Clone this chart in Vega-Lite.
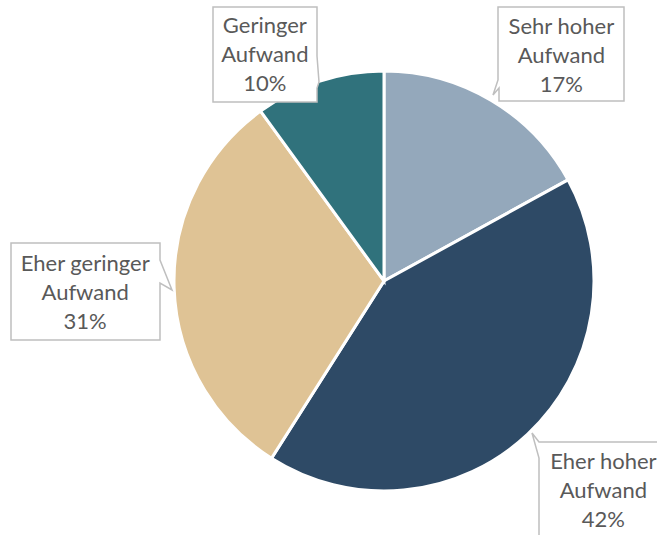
{
  "$schema": "https://vega.github.io/schema/vega-lite/v6.json",
  "width": 546,
  "height": 508,
  "autosize": {"type": "none"},
  "padding": {"left": 111, "top": 27, "right": 0, "bottom": 0},
  "background": "white",
  "view": {"stroke": null},
  "config": {"text": {"font": "Lato"}},
  "data": {
    "values": [
      {"category": "Sehr hoher Aufwand", "value": 17, "rank": 1},
      {"category": "Eher hoher Aufwand", "value": 42, "rank": 2},
      {"category": "Eher geringer Aufwand", "value": 31, "rank": 3},
      {"category": "Geringer Aufwand", "value": 10, "rank": 4}
    ]
  },
  "transform": [
    {"calculate": "[replace(datum.category, ' Aufwand', ''), 'Aufwand', datum.value + '%']", "as": "lbl"}
  ],
  "layer": [
    {
      "mark": {"type": "arc", "radius": 210, "stroke": "white", "strokeWidth": 3},
      "encoding": {
        "theta": {"field": "value", "type": "quantitative", "stack": true},
        "order": {"field": "rank", "type": "quantitative"},
        "color": {
          "field": "category",
          "type": "nominal",
          "scale": {
            "domain": ["Sehr hoher Aufwand", "Eher hoher Aufwand", "Eher geringer Aufwand", "Geringer Aufwand"],
            "range": ["#94A8BB", "#2E4A66", "#DFC395", "#30727C"]
          },
          "legend": null
        }
      }
    },
    {
      "mark": {"type": "point", "filled": true, "fill": "white", "stroke": "#BFBFBF", "strokeWidth": 1.5, "size": 4, "opacity": 1, "fillOpacity": 1, "strokeOpacity": 1},
      "encoding": {
        "shape": {
          "field": "category",
          "type": "nominal",
          "scale": {
            "domain": ["Sehr hoher Aufwand", "Eher hoher Aufwand", "Eher geringer Aufwand", "Geringer Aufwand"],
            "range": [
              "M 114 -274 H 240 V -180 H 115 V -193 L 109 -186 L 114 -201 Z",
              "M 155 161 H 280 V 260 H 155 V 177 L 148 152 Z",
              "M -373 -38 H -224 V -21 L -212 9 L -224 2 V 59 H -373 Z",
              "M -171 -274 H -67 V -225 L -65 -199 L -67 -193 V -179 H -171 Z"
            ]
          },
          "legend": null
        }
      }
    },
    {
      "mark": {"type": "text", "radius": 260, "dx": 45, "dy": -30, "fontSize": 22, "lineHeight": 29, "color": "#595959", "align": "center", "baseline": "middle"},
      "encoding": {
        "theta": {"field": "value", "type": "quantitative", "stack": true},
        "order": {"field": "rank", "type": "quantitative"},
        "text": {"condition": {"test": "datum.category === 'Sehr hoher Aufwand'", "field": "lbl"}, "value": ""}
      }
    },
    {
      "mark": {"type": "text", "radius": 300, "dx": 14, "dy": -38, "fontSize": 22, "lineHeight": 29, "color": "#595959", "align": "center", "baseline": "middle"},
      "encoding": {
        "theta": {"field": "value", "type": "quantitative", "stack": true},
        "order": {"field": "rank", "type": "quantitative"},
        "text": {"condition": {"test": "datum.category === 'Eher hoher Aufwand'", "field": "lbl"}, "value": ""}
      }
    },
    {
      "mark": {"type": "text", "radius": 299, "dx": 0, "dy": -26, "fontSize": 22, "lineHeight": 29, "color": "#595959", "align": "center", "baseline": "middle"},
      "encoding": {
        "theta": {"field": "value", "type": "quantitative", "stack": true},
        "order": {"field": "rank", "type": "quantitative"},
        "text": {"condition": {"test": "datum.category === 'Eher geringer Aufwand'", "field": "lbl"}, "value": ""}
      }
    },
    {
      "mark": {"type": "text", "radius": 240, "dx": -45, "dy": -27, "fontSize": 22, "lineHeight": 29, "color": "#595959", "align": "center", "baseline": "middle"},
      "encoding": {
        "theta": {"field": "value", "type": "quantitative", "stack": true},
        "order": {"field": "rank", "type": "quantitative"},
        "text": {"condition": {"test": "datum.category === 'Geringer Aufwand'", "field": "lbl"}, "value": ""}
      }
    }
  ]
}
